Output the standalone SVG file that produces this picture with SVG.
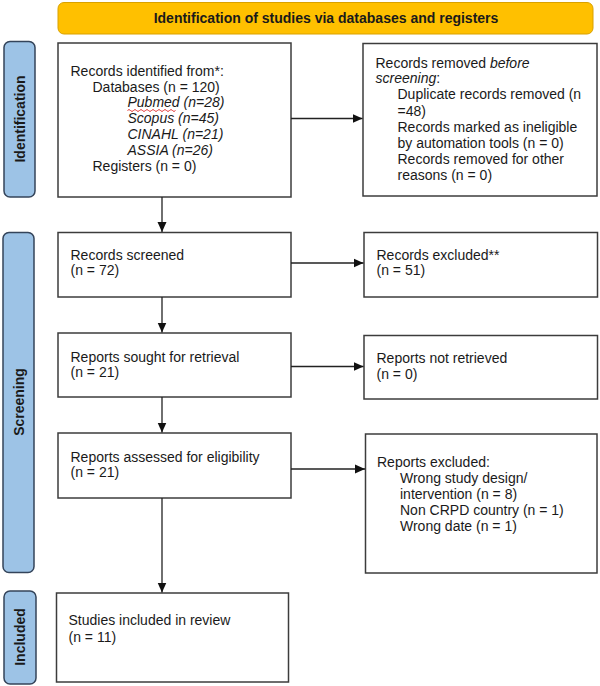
<svg xmlns="http://www.w3.org/2000/svg" width="600" height="686" viewBox="0 0 600 686">
<defs>
<style>
text{font-family:"Liberation Sans",Arial,sans-serif;font-size:14px;fill:#1a1a1a}
.b{font-weight:bold}
.i{font-style:italic}
.box{fill:#fff;stroke:#3c3c3c;stroke-width:1.5}
.side{fill:#9DC3E6;stroke:#34445a;stroke-width:1.5}
.ln{fill:none;stroke:#222;stroke-width:1.3}
</style>
<marker id="ah" viewBox="0 0 10 10" refX="10" refY="5" markerWidth="10" markerHeight="10" markerUnits="userSpaceOnUse" orient="auto">
<path d="M0,0.5 L10,5 L0,9.5 Z" fill="#111"/>
</marker>
</defs>
<rect width="600" height="686" fill="#fff"/>

<g id="banner">
<rect x="58" y="2.5" width="535" height="31.5" rx="6" fill="#FFC000" stroke="#D9A100" stroke-width="1"/>
<text class="b" x="326" y="23" text-anchor="middle">Identification of studies via databases and registers</text>
</g>

<g id="side-identification">
<rect class="side" x="4" y="41.5" width="31" height="155.5" rx="6"/>
<text class="b" transform="translate(24.5,119) rotate(-90)" text-anchor="middle">Identification</text>
</g>
<g id="side-screening">
<rect class="side" x="3" y="232.5" width="31" height="340" rx="6"/>
<text class="b" transform="translate(23.5,402) rotate(-90)" text-anchor="middle">Screening</text>
</g>
<g id="side-included">
<rect class="side" x="4" y="591" width="32" height="93" rx="6"/>
<text class="b" transform="translate(25,637) rotate(-90)" text-anchor="middle">Included</text>
</g>

<g id="identified">
<rect class="box" x="58" y="43" width="233" height="154"/>
<text x="70.5" y="76">Records identified from*:</text>
<text x="92.5" y="91.5">Databases (n = 120)</text>
<text class="i" x="127.5" y="107">Pubmed (n=28)</text>
<path d="M127.5,110.5 q1.5,-2 3,0 t3,0 t3,0 t3,0 t3,0 t3,0 t3,0 t3,0 t3,0 t3,0 t3,0 t3,0 t3,0 t3,0 t3,0 t3,0" fill="none" stroke="#e02020" stroke-width="0.9"/>
<text class="i" x="127.5" y="123">Scopus (n=45)</text>
<text class="i" x="127.5" y="139">CINAHL (n=21)</text>
<text class="i" x="127.5" y="154.5">ASSIA (n=26)</text>
<text x="92.5" y="170.5">Registers (n = 0)</text>
</g>

<g id="removed">
<rect class="box" x="363" y="43.5" width="234" height="152.5"/>
<text x="375.5" y="67.5">Records removed <tspan class="i">before</tspan></text>
<text x="375.5" y="83"><tspan class="i">screening</tspan>:</text>
<text x="397.5" y="99">Duplicate records removed (n</text>
<text x="397.5" y="115.5">=48)</text>
<text x="397.5" y="132">Records marked as ineligible</text>
<text x="397.5" y="148">by automation tools (n = 0)</text>
<text x="397.5" y="164">Records removed for other</text>
<text x="397.5" y="180">reasons (n = 0)</text>
</g>

<g id="screened">
<rect class="box" x="58" y="232.5" width="233" height="64.5"/>
<text x="70.5" y="259.5">Records screened</text>
<text x="70.5" y="275">(n = 72)</text>
</g>

<g id="excluded">
<rect class="box" x="364" y="232.5" width="233.5" height="64.5"/>
<text x="376.5" y="259.5">Records excluded**</text>
<text x="376.5" y="275">(n = 51)</text>
</g>

<g id="sought">
<rect class="box" x="58" y="333" width="233" height="64"/>
<text x="70.5" y="361.5">Reports sought for retrieval</text>
<text x="70.5" y="377">(n = 21)</text>
</g>

<g id="not-retrieved">
<rect class="box" x="364" y="335.5" width="233.5" height="63.5"/>
<text x="376.5" y="363">Reports not retrieved</text>
<text x="376.5" y="379">(n = 0)</text>
</g>

<g id="assessed">
<rect class="box" x="58" y="433" width="233" height="65"/>
<text x="70.5" y="461.5">Reports assessed for eligibility</text>
<text x="70.5" y="477">(n = 21)</text>
</g>

<g id="reports-excluded">
<rect class="box" x="365.5" y="434" width="231.5" height="139"/>
<text x="377" y="467">Reports excluded:</text>
<text x="400" y="483">Wrong study design/</text>
<text x="400" y="499">intervention (n = 8)</text>
<text x="400" y="515">Non CRPD country (n = 1)</text>
<text x="400" y="531">Wrong date (n = 1)</text>
</g>

<g id="included">
<rect class="box" x="56.5" y="593" width="232" height="89"/>
<text x="68.5" y="625">Studies included in review</text>
<text x="68.5" y="641.5">(n = 11)</text>
</g>

<g id="connectors">
<line class="ln" x1="291" y1="118.5" x2="362.5" y2="118.5" marker-end="url(#ah)"/>
<line class="ln" x1="291" y1="263" x2="363.5" y2="263" marker-end="url(#ah)"/>
<line class="ln" x1="291" y1="366.5" x2="363.5" y2="366.5" marker-end="url(#ah)"/>
<line class="ln" x1="291" y1="469" x2="365" y2="469" marker-end="url(#ah)"/>
<line class="ln" x1="162" y1="197" x2="162" y2="232" marker-end="url(#ah)"/>
<line class="ln" x1="162" y1="297" x2="162" y2="332.5" marker-end="url(#ah)"/>
<line class="ln" x1="162" y1="397" x2="162" y2="432.5" marker-end="url(#ah)"/>
<line class="ln" x1="162" y1="498" x2="162" y2="592.5" marker-end="url(#ah)"/>
</g>
</svg>
